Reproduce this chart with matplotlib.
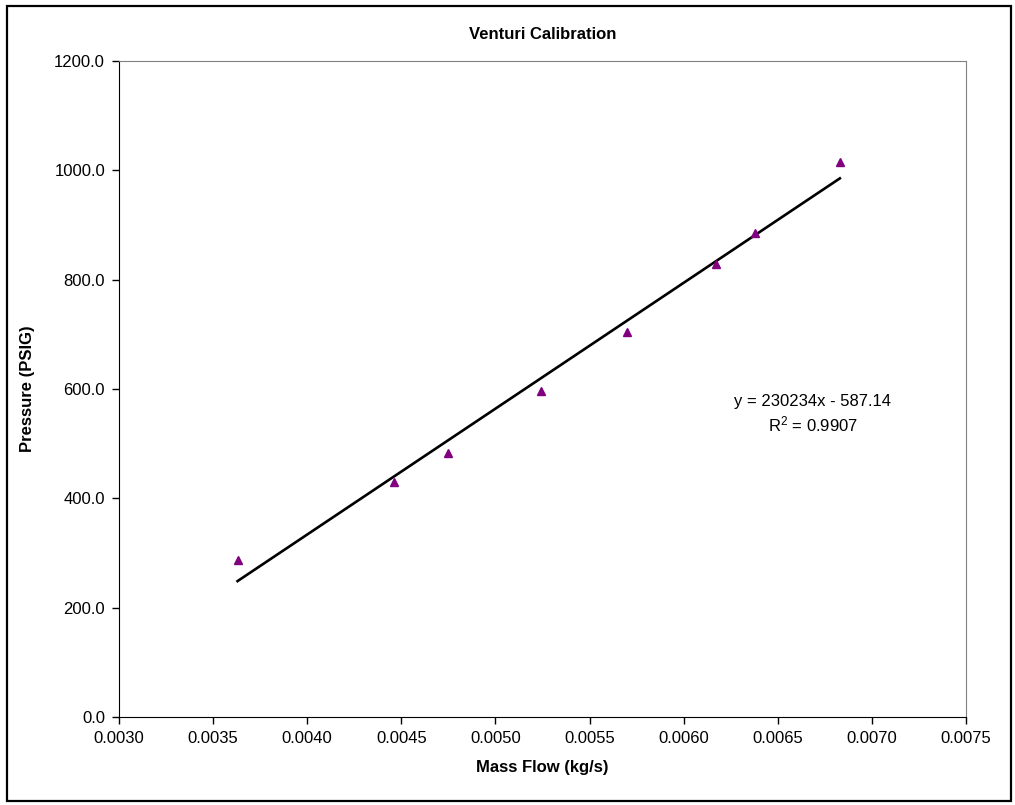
import matplotlib
matplotlib.use('Agg')
import matplotlib.pyplot as plt
from matplotlib.patches import Rectangle
from matplotlib.ticker import FormatStrFormatter, MultipleLocator

plt.rcParams['font.family'] = ['Liberation Sans', 'DejaVu Sans']
plt.rcParams['mathtext.fontset'] = 'custom'
plt.rcParams['mathtext.rm'] = 'Liberation Sans'

# Data
mass_flow = [0.00363, 0.00446, 0.00475, 0.00524, 0.00570, 0.00617, 0.00638, 0.00683]
pressure = [287, 430, 483, 596, 705, 828, 885, 1015]

# Trendline as printed on the chart
slope = 230234
intercept = -587.14
r_squared = 0.9907

fig = plt.figure(figsize=(10.15, 8.05), dpi=100)
ax = fig.add_axes([0.1172, 0.1093, 0.8345, 0.8149])

ax.plot(mass_flow, pressure, linestyle='none', marker='^', color='#800080',
        markersize=5.5, zorder=3)

x_fit = [min(mass_flow), max(mass_flow)]
y_fit = [slope * x + intercept for x in x_fit]
ax.plot(x_fit, y_fit, color='black', linewidth=1.9, zorder=2)

ax.set_xlim(0.0030, 0.0075)
ax.set_ylim(0, 1200)
ax.xaxis.set_major_locator(MultipleLocator(0.0005))
ax.yaxis.set_major_locator(MultipleLocator(200))
ax.xaxis.set_major_formatter(FormatStrFormatter('%.4f'))
ax.yaxis.set_major_formatter(FormatStrFormatter('%.1f'))
ax.tick_params(direction='out', length=5, width=1, labelsize=12, pad=5, colors='black')

for side in ['top', 'right']:
    ax.spines[side].set_color('#808080')
for side in ['left', 'bottom']:
    ax.spines[side].set_color('black')

ax.set_title('Venturi Calibration', fontsize=12, fontweight='bold', pad=16)
ax.set_xlabel('Mass Flow (kg/s)', fontsize=12, fontweight='bold', labelpad=10)
ax.set_ylabel('Pressure (PSIG)', fontsize=12, fontweight='bold', labelpad=14)

ax.text(0.819, 0.462, f'y = {slope}x - {abs(intercept):.2f}\n$\\mathrm{{R^2}}$ = {r_squared}',
        transform=ax.transAxes, ha='center', va='center', multialignment='center',
        fontsize=12, linespacing=1.3)

fig.patches.append(Rectangle((0.007, 0.005), 0.989, 0.987, transform=fig.transFigure,
                             fill=False, edgecolor='black', linewidth=1.6))

fig.savefig('out.png', dpi=100)
